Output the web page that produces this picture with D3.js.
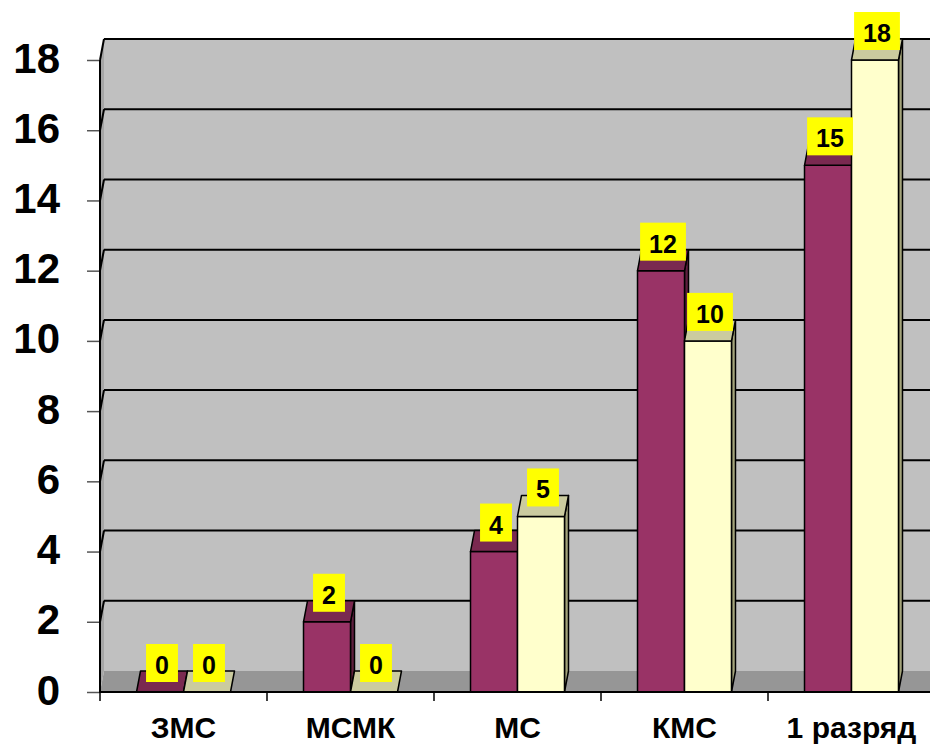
<!DOCTYPE html>
<html>
<head>
<meta charset="utf-8">
<script src="https://cdn.jsdelivr.net/npm/d3@7"></script>
<style>
  html, body { margin: 0; padding: 0; background: #fff; }
  svg { display: block; }
  text { font-family: "Liberation Sans", Arial, sans-serif; font-weight: bold; }
</style>
</head>
<body>
<svg id="chart" width="930" height="747"></svg>
<script>
const categories = ["ЗМС", "МСМК", "МС", "КМС", "1 разряд"];
const seriesNames = ["s1", "s2"];
const series1 = [0, 2, 4, 12, 15];
const series2 = [0, 0, 5, 10, 18];
const yTicks = [0, 2, 4, 6, 8, 10, 12, 14, 16, 18];

(function () {
const W = 930, H = 747;
const plotLeft = 100, plotRight = 935, plotBottom = 692, plotTop = 60;
const DX = 4, DY = -21;

const svg = d3.select("#chart");
const x0 = d3.scaleBand().domain(categories).range([plotLeft, plotRight]).padding(0);
const x1 = d3.scaleBand().domain(seriesNames).range([0, x0.bandwidth()]).paddingInner(0).paddingOuter(0.777);
const y = d3.scaleLinear().domain([0, 18]).range([plotBottom, plotTop]);

const colors = {
  s1: { front: "#993366", top: "#7a2950", side: "#5e1f3e" },
  s2: { front: "#ffffcc", top: "#cbcb9f", side: "#a3a37a" }
};

const pts = a => a.map(p => p.join(",")).join(" ");

// walls
svg.append("rect")
  .attr("x", plotLeft + DX).attr("y", y(18) + DY)
  .attr("width", W - plotLeft).attr("height", y(0) - y(18))
  .attr("fill", "#c0c0c0");
svg.append("polygon")
  .attr("points", pts([[plotLeft, y(18)], [plotLeft + DX, y(18) + DY], [plotLeft + DX, y(0) + DY], [plotLeft, y(0)]]))
  .attr("fill", "#a6a6a6");
// floor
svg.append("polygon")
  .attr("points", pts([[plotLeft, y(0)], [plotRight, y(0)], [plotRight + DX, y(0) + DY], [plotLeft + DX, y(0) + DY]]))
  .attr("fill", "#969696");

// gridlines
yTicks.filter(v => v > 0).forEach(v => {
  svg.append("line")
    .attr("x1", plotLeft + DX).attr("x2", W + 10)
    .attr("y1", y(v) + DY).attr("y2", y(v) + DY)
    .attr("stroke", "#000").attr("stroke-width", 2);
  svg.append("line")
    .attr("x1", plotLeft).attr("y1", y(v))
    .attr("x2", plotLeft + DX).attr("y2", y(v) + DY)
    .attr("stroke", "#000").attr("stroke-width", 2);
});

// y axis ticks & labels
const yAxis = d3.axisLeft(y).tickValues(yTicks).tickSize(13).tickPadding(27);
const gy = svg.append("g").attr("transform", `translate(${plotLeft},0)`).call(yAxis);
gy.select(".domain").remove();
gy.selectAll(".tick line").attr("stroke", "#555").attr("stroke-width", 1.5);
gy.selectAll(".tick text")
  .attr("font-size", 42).attr("font-family", "'Liberation Sans', Arial, sans-serif")
  .attr("font-weight", "bold").attr("fill", "#000")
  .attr("dy", null).attr("y", 12);

// y axis line
svg.append("line").attr("x1", plotLeft).attr("x2", plotLeft).attr("y1", y(18)).attr("y2", plotBottom + 1)
  .attr("stroke", "#000").attr("stroke-width", 2);

// bars
const data = categories.map((c, i) => ({ c, vals: [{ k: "s1", v: series1[i] }, { k: "s2", v: series2[i] }] }));
const gBars = svg.append("g");
data.forEach(d => {
  d.vals.forEach(b => {
    const xl = x0(d.c) + x1(b.k), w = x1.bandwidth(), xr = xl + w;
    const yt = y(b.v), yb = y(0);
    const col = colors[b.k];
    const g = gBars.append("g").attr("stroke", "#000").attr("stroke-width", 1.5).attr("stroke-linejoin", "round");
    if (b.v > 0) {
      g.append("polygon")
        .attr("points", pts([[xr, yt], [xr + DX, yt + DY], [xr + DX, yb + DY], [xr, yb]]))
        .attr("fill", col.side);
      g.append("rect").attr("x", xl).attr("y", yt).attr("width", w).attr("height", yb - yt)
        .attr("fill", col.front);
    }
    g.append("polygon")
      .attr("points", pts([[xl, yt], [xr, yt], [xr + DX, yt + DY], [xl + DX, yt + DY]]))
      .attr("fill", col.top);
  });
});

// x axis line and ticks
svg.append("line").attr("x1", plotLeft).attr("x2", W + 10).attr("y1", plotBottom).attr("y2", plotBottom)
  .attr("stroke", "#000").attr("stroke-width", 2);
categories.forEach(c => {
  svg.append("line").attr("x1", x0(c)).attr("x2", x0(c)).attr("y1", plotBottom).attr("y2", plotBottom + 9)
    .attr("stroke", "#000").attr("stroke-width", 1.5);
});
const xAxis = d3.axisBottom(x0).tickSize(0).tickPadding(0);
const gx = svg.append("g").attr("transform", `translate(0,${plotBottom})`).call(xAxis);
gx.select(".domain").remove();
gx.selectAll(".tick text")
  .attr("font-size", 30).attr("font-family", "'Liberation Sans', Arial, sans-serif")
  .attr("font-weight", "bold").attr("fill", "#000")
  .attr("dy", null).attr("y", 46);

// data labels
const gLab = svg.append("g");
data.forEach(d => {
  d.vals.forEach(b => {
    const cx = x0(d.c) + x1(b.k) + x1.bandwidth() / 2 + DX / 2;
    const yb = y(b.v) - 10;
    const t = gLab.append("text").attr("x", cx).attr("y", yb - 8)
      .attr("text-anchor", "middle").attr("font-size", 25).attr("fill", "#000").text(b.v);
    const tw = t.node().getComputedTextLength();
    gLab.insert("rect", "text")
      .attr("x", cx - tw / 2 - 9).attr("y", yb - 38).attr("width", tw + 18).attr("height", 38)
      .attr("fill", "#ffff00");
  });
});
gLab.selectAll("text").raise();
})();
</script>
</body>
</html>
